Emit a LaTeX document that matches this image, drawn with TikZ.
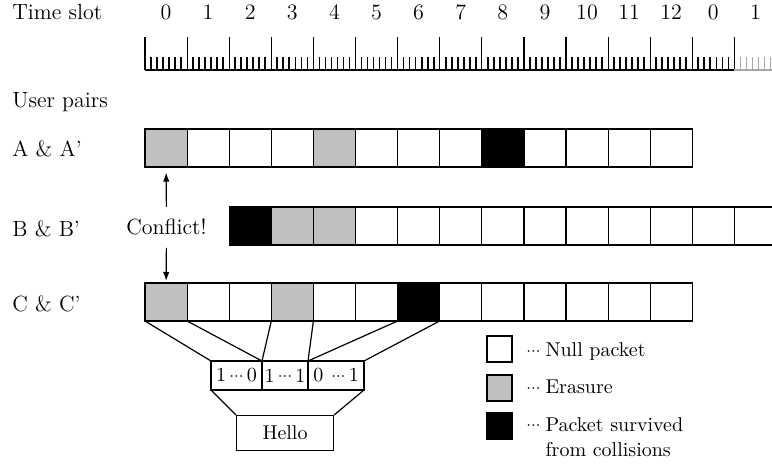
\documentclass[tikz,border=0pt]{standalone}
\usepackage{amsmath}
\usepackage{xcolor}
\usetikzlibrary{positioning,arrows.meta}

\definecolor{erased}{RGB}{192,192,192}
% three close dots
\newcommand{\tridot}{\raisebox{0.6pt}{\footnotesize$\mathord{\cdot}\mathord{\cdot}\mathord{\cdot}$}}
\tikzset{
  slot/.style={draw,line width=0.6pt,inner sep=0pt,outer sep=0pt,
    minimum width=21.05pt,minimum height=19pt,anchor=north west},
  bits/.style={draw,line width=0.6pt,inner sep=0pt,outer sep=0pt,
    minimum height=14.5pt},
  key/.style={draw,line width=0.6pt,inner sep=0pt,outer sep=0pt,
    minimum width=12.5pt,minimum height=13pt},
  lbl/.style={inner sep=0pt,anchor=base west},
  big/.style={font=\fontsize{11}{13}\selectfont},
  tick/.style={line width=0.6pt},
  minortick/.style={line width=0.85pt},
  warn/.style={-{Latex[length=4.5pt,width=3.2pt]},line width=0.6pt},
}

\begin{document}
\begin{tikzpicture}[x=0.5pt,y=-0.5pt]
\useasboundingbox (0,0) rectangle (772,469);

% time axis
\node[lbl,big] (ts) at (12,20) {Time slot};
\foreach \k/\t in {0/0,1/1,2/2,3/3,4/4,5/5,6/6,7/7,8/8,9/9,10/10,11/11,12/12,13/0,14/1}
  \node[big,inner sep=0pt,anchor=base] (t\k) at (166+42.1*\k,20) {\t};
\foreach \k in {0,...,13}{
  \draw[tick] (145+42.1*\k,70) -- ++(0,-33);
  \foreach \j in {1,...,6}
    \draw[minortick] (145+42.1*\k+6.014*\j,70) -- ++(0,-13);
}
\draw[tick] (734.4,70) -- ++(0,-33);
\draw[tick] (145,70) -- (734.4,70);
\begin{scope}[gray!70]
  \draw[tick] (734.4,70) -- (776,70);
  \foreach \j in {1,...,6}
    \draw[minortick] (734.4+6.014*\j,70) -- ++(0,-13);
\end{scope}

% user pairs
\node[lbl,big] (up) at (12,108) {User pairs};
\node[lbl,big] (pa) at (12,157) {A \& A'};
\node[lbl,big] (pb) at (12,237) {B \& B'};
\node[lbl,big] (pc) at (12,312) {C \& C'};

\foreach \i/\c in {0/erased,1/white,2/white,3/white,4/erased,5/white,6/white,
    7/white,8/black,9/white,10/white,11/white,12/white}
  \node[slot,fill=\c] (a\i) at (145+42.1*\i,129) {};
\foreach \i/\c in {2/black,3/erased,4/erased,5/white,6/white,7/white,8/white,
    9/white,10/white,11/white,12/white,13/white,14/white}
  \node[slot,fill=\c] (b\i) at (145+42.1*\i,207) {};
\foreach \i/\c in {0/erased,1/white,2/white,3/erased,4/white,5/white,6/black,
    7/white,8/white,9/white,10/white,11/white,12/white}
  \node[slot,fill=\c] (c\i) at (145+42.1*\i,283) {};

% conflict between A and C
\node[big,inner xsep=0pt,inner ysep=6pt,anchor=base] (conf) at (166.5,235) {Conflict!};
\draw[warn,shorten >=2.8pt] (conf) -- (a0);
\draw[warn,shorten >=1pt] (conf) -- (c0);

% bits and message
\node[bits,minimum width=25.5pt,anchor=north west] (m1) at (211,361) {1\,\tridot\,0};
\node[bits,minimum width=23pt,right=0pt of m1] (m2) {1\,\tridot\,1};
\node[bits,minimum width=28pt,right=0pt of m2] (m3) {0\hspace{4pt}\tridot\,1};
\draw[tick] (c0.south west) -- (m1.north west)
  (c0.south east) -- (m1.north east)
  (c3.south west) -- (m2.north west)
  (c3.south east) -- (m2.north east)
  (c6.south west) -- (m3.north west)
  (c6.south east) -- (m3.north east);
\node[draw,line width=0.6pt,inner sep=0pt,minimum width=48.5pt,
  minimum height=17.5pt,below=12.5pt of m2] (hello) {Hello};
\draw[tick] (m1.south west) -- (hello.north west)
  (m3.south east) -- (hello.north east);

% legend
\node[key,fill=white] (k1) at (499.5,349) {};
\node[key,fill=erased,below=6.5pt of k1] (k2) {};
\node[key,fill=black,below=6pt of k2] (k3) {};
\node[lbl] (l1) at ([xshift=7pt,yshift=-3.8pt]k1.east) {\tridot\hspace{2.5pt}Null packet};
\node[lbl] (l2) at ([xshift=7pt,yshift=-2.7pt]k2.east) {\tridot\hspace{2.5pt}Erasure};
\node[lbl] (l3) at ([xshift=7pt,yshift=-2.6pt]k3.east) {\tridot\hspace{2.5pt}Packet survived};
\node[lbl] (l4) at ([yshift=-12.5pt]l3.base west) {\hphantom{\tridot\hspace{2.5pt}}from collisions};
\end{tikzpicture}
\end{document}
